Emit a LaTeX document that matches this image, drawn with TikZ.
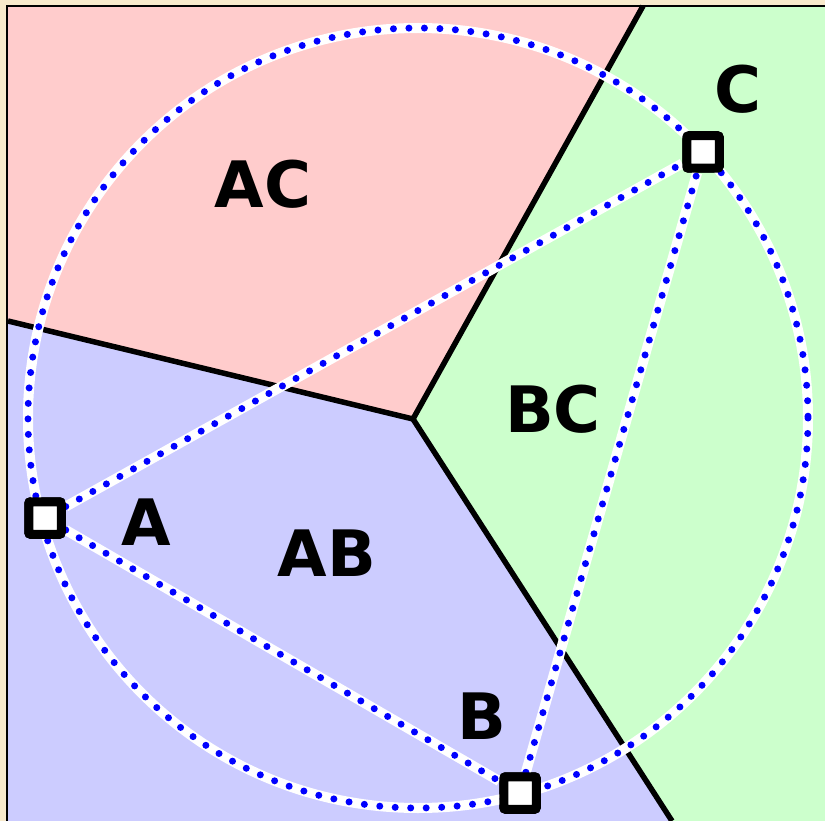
\documentclass[tikz,border=0pt]{standalone}
\usepackage{fontspec}
\newfontfamily\lblfont{DejaVu Sans}
\definecolor{bgbeige}{RGB}{248,234,204}
\definecolor{pinkreg}{RGB}{255,204,204}
\definecolor{greenreg}{RGB}{204,255,204}
\definecolor{bluereg}{RGB}{204,204,255}
\definecolor{dotblue}{RGB}{0,0,255}
\tikzset{
  site/.style={draw=black, fill=white, line width=9pt, minimum size=32.5pt, inner sep=0pt, rounded corners=2pt},
  lbl/.style={font=\lblfont\bfseries\fontsize{64}{64}\selectfont, inner sep=0pt},
  vedge/.style={draw=black, line width=5.5pt},
  dotwhite/.style={draw=white, line width=10pt},
  dotblue/.style={draw=dotblue, line width=7pt, line cap=round, dash pattern=on 0pt off 15.5pt},
}
\begin{document}
\begin{tikzpicture}[x=1pt,y=-1pt]
\useasboundingbox (0,0) rectangle (825,821);
\fill[bgbeige] (0,0) rectangle (825,821);
% frame corners and Voronoi vertex
\coordinate (V) at (413,419);
\coordinate (L) at (8,321);
\coordinate (T) at (643,6);
\coordinate (Bt) at (672,821);
% regions
\fill[pinkreg] (8,6) -- (T) -- (V) -- (L) -- cycle;
\fill[greenreg] (T) -- (825,6) -- (825,821) -- (Bt) -- (V) -- cycle;
\fill[bluereg] (L) -- (V) -- (Bt) -- (8,821) -- cycle;
% frame
\draw[black, line width=2.5pt] (7,821) -- (7,6) -- (825,6);
% Voronoi edges
\draw[vedge] (L) -- (V) -- (T);
\draw[vedge] (V) -- (Bt);
% sites
\node[site] (A) at (45,518) {};
\node[site] (B) at (520,793) {};
\node[site] (C) at (703,152) {};
% circle and triangle
\coordinate (O) at (418,418);
\draw[dotwhite] (O) circle[radius=390];
\draw[dotblue] (O) circle[radius=390];
\draw[dotwhite] (A) -- (B);
\draw[dotwhite] (A) -- (C);
\draw[dotwhite] (B) -- (C);
\draw[dotblue] (A) -- (B);
\draw[dotblue] (A) -- (C);
\draw[dotblue] (B) -- (C);
% redraw sites on top
\node[site] at (A) {};
\node[site] at (B) {};
\node[site] at (C) {};
% labels
\node[lbl] (lAC) at (263,184) {AC};
\node[lbl] (lBC) at (553,409) {BC};
\node[lbl] (lAB) at (327,553) {AB};
\node[lbl] (lA) at (146,522) {A};
\node[lbl] (lB) at (482,716) {B};
\node[lbl] (lC) at (738,89) {C};
\end{tikzpicture}
\end{document}
